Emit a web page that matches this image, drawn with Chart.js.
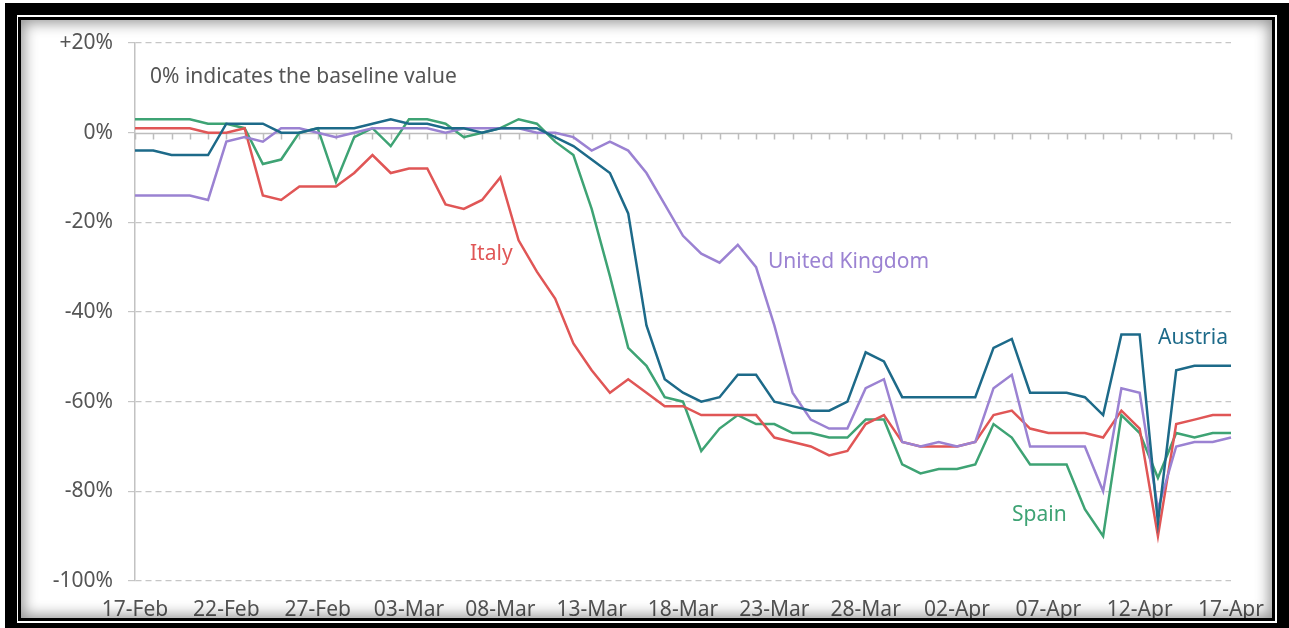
<!DOCTYPE html>
<html>
<head>
<meta charset="utf-8">
<script src="https://cdn.jsdelivr.net/npm/chart.js@4/dist/chart.umd.min.js"></script>
<style>
  html, body { margin: 0; padding: 0; background: #fff; overflow: hidden; }
  #wrap { position: relative; width: 1289px; height: 628px; }
  #grafica { position: absolute; left: 0; top: 0; }
  .frame { position: absolute; box-sizing: border-box; pointer-events: none; }
  #frame-outer { left: 5px; top: 3px; width: 1284px; height: 632px; border: 12px solid #000; }
  #frame-inner { left: 18px; top: 17px; width: 1257px; height: 604px; border: 3px solid #000;
    box-shadow: inset 0 0 14px 3px rgba(0,0,0,0.42); }
</style>
</head>
<body>
<div id="wrap">
  <canvas id="grafica" width="1289" height="628"></canvas>
  <div class="frame" id="frame-outer"></div>
  <div class="frame" id="frame-inner"></div>
</div>
<script>
// dias, 17-Feb a 17-Apr (2020)
const days = [
  '17-Feb','18-Feb','19-Feb','20-Feb','21-Feb','22-Feb','23-Feb','24-Feb','25-Feb','26-Feb',
  '27-Feb','28-Feb','29-Feb','01-Mar','02-Mar','03-Mar','04-Mar','05-Mar','06-Mar','07-Mar',
  '08-Mar','09-Mar','10-Mar','11-Mar','12-Mar','13-Mar','14-Mar','15-Mar','16-Mar','17-Mar',
  '18-Mar','19-Mar','20-Mar','21-Mar','22-Mar','23-Mar','24-Mar','25-Mar','26-Mar','27-Mar',
  '28-Mar','29-Mar','30-Mar','31-Mar','01-Apr','02-Apr','03-Apr','04-Apr','05-Apr','06-Apr',
  '07-Apr','08-Apr','09-Apr','10-Apr','11-Apr','12-Apr','13-Apr','14-Apr','15-Apr','16-Apr',
  '17-Apr'
];
const tickLabels = ['17-Feb','22-Feb','27-Feb','03-Mar','08-Mar','13-Mar','18-Mar','23-Mar','28-Mar','02-Apr','07-Apr','12-Apr','17-Apr'];
const yTicks = [20, 0, -20, -40, -60, -80, -100];

const austria = [
  -4, -4, -5, -5, -5, 2, 2, 2, 0, 0, 1, 1, 1, 2, 3, 2, 2, 1, 1, 0, 1,
  1, 1, -1, -3, -6, -9, -18, -43, -55, -58, -60, -59, -54, -54, -60, -61, -62, -62, -60, -49,
  -51, -59, -59, -59, -59, -59, -48, -46, -58, -58, -58, -59, -63, -45, -45, -87, -53, -52, -52, -52
];
const uk = [
  -14, -14, -14, -14, -15, -2, -1, -2, 1, 1, 0, -1, 0, 1, 1, 1, 1, 0, 1, 1, 1,
  1, 0, 0, -1, -4, -2, -4, -9, -16, -23, -27, -29, -25, -30, -43, -58, -64, -66, -66, -57,
  -55, -69, -70, -69, -70, -69, -57, -54, -70, -70, -70, -70, -80, -57, -58, -84, -70, -69, -69, -68
];
const italy = [
  1, 1, 1, 1, 0, 0, 1, -14, -15, -12, -12, -12, -9, -5, -9, -8, -8, -16, -17, -15, -10,
  -24, -31, -37, -47, -53, -58, -55, -58, -61, -61, -63, -63, -63, -63, -68, -69, -70, -72, -71, -65,
  -63, -69, -70, -70, -70, -69, -63, -62, -66, -67, -67, -67, -68, -62, -66, -90, -65, -64, -63, -63
];
const spain = [
  3, 3, 3, 3, 2, 2, 1, -7, -6, 0, 1, -11, -1, 1, -3, 3, 3, 2, -1, 0, 1,
  3, 2, -2, -5, -17, -32, -48, -52, -59, -60, -71, -66, -63, -65, -65, -67, -67, -68, -68, -64,
  -64, -74, -76, -75, -75, -74, -65, -68, -74, -74, -74, -84, -90, -63, -67, -77, -67, -68, -67, -67
];

const colores = { austria: '#1d6a89', uk: '#9b82d2', italy: '#e05656', spain: '#3ea374' };
const fuente = '"Noto Sans", "Open Sans", sans-serif';
const gris = '#c6c6c6';

// linea del 0% con marcas diarias
const lineaCero = {
  id: 'lineaCero',
  beforeDatasetsDraw(chart) {
    const { ctx, chartArea, scales: { x, y } } = chart;
    const y0 = Math.round(y.getPixelForValue(0)) + 0.5;
    ctx.save();
    ctx.strokeStyle = '#bdbdbd';
    ctx.lineWidth = 1.5;
    ctx.beginPath();
    ctx.moveTo(chartArea.left, y0);
    ctx.lineTo(chartArea.right, y0);
    days.forEach((d, i) => {
      const px = Math.round(x.getPixelForValue(i)) + 0.5;
      ctx.moveTo(px, y0);
      ctx.lineTo(px, y0 + 6);
    });
    ctx.stroke();
    ctx.restore();
  }
};

// textos sobre el grafico
const notas = [
  { text: '0% indicates the baseline value', color: '#555', x: 150, y: 83 },
  { text: 'Italy', color: colores.italy, x: 470, y: 260 },
  { text: 'United Kingdom', color: colores.uk, x: 768, y: 268 },
  { text: 'Austria', color: colores.austria, x: 1158, y: 344 },
  { text: 'Spain', color: colores.spain, x: 1012, y: 521 }
];
const textos = {
  id: 'textos',
  afterDatasetsDraw(chart) {
    const ctx = chart.ctx;
    ctx.save();
    ctx.font = '21px ' + fuente;
    ctx.textBaseline = 'alphabetic';
    ctx.textAlign = 'left';
    notas.forEach(n => {
      ctx.fillStyle = n.color;
      ctx.fillText(n.text, n.x, n.y);
    });
    ctx.restore();
  }
};

function serie(label, data, color) {
  return {
    label, data,
    borderColor: color,
    backgroundColor: color,
    borderWidth: 2.5,
    pointRadius: 0,
    tension: 0,
    fill: false
  };
}

const ctx = document.getElementById('grafica').getContext('2d');
const chart = new Chart(ctx, {
  type: 'line',
  data: {
    labels: days,
    datasets: [
      serie('Austria', austria, colores.austria),
      serie('United Kingdom', uk, colores.uk),
      serie('Italy', italy, colores.italy),
      serie('Spain', spain, colores.spain)
    ]
  },
  options: {
    responsive: false,
    animation: false,
    layout: { padding: { left: 0, top: 43, right: 58, bottom: 0 } },
    plugins: { legend: { display: false }, tooltip: { enabled: false } },
    scales: {
      x: {
        grid: { display: false },
        border: { display: false },
        ticks: {
          autoSkip: false,
          maxRotation: 0,
          padding: 8,
          color: '#555',
          font: { family: fuente, size: 21 },
          callback: (v, i) => tickLabels.includes(days[i]) ? days[i] : ''
        },
        afterFit: s => { s.height = 47; }
      },
      y: {
        min: -100,
        max: 20,
        afterBuildTicks: s => { s.ticks = yTicks.map(v => ({ value: v })); },
        grid: {
          color: c => (c.tick && c.tick.value === 0) ? 'rgba(0,0,0,0)' : gris,
          tickColor: gris,
          tickLength: 7,
          lineWidth: 1.2
        },
        border: { display: true, color: '#c2c2c2', width: 1.5, dash: [6, 4] },
        ticks: {
          padding: 15,
          color: '#555',
          font: { family: fuente, size: 21 },
          callback: v => (v > 0 ? '+' : '') + v + '%'
        },
        afterFit: s => { s.width = 135; }
      }
    }
  },
  plugins: [lineaCero, textos]
});
</script>
</body>
</html>
